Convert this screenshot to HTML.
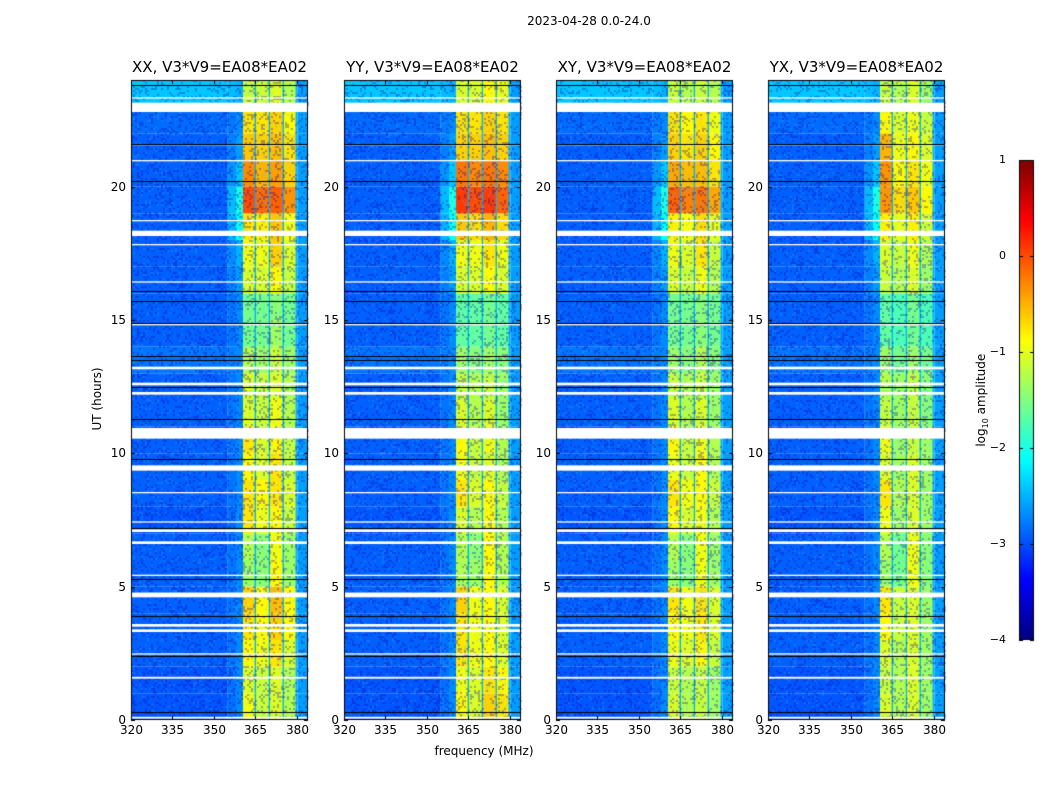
<!DOCTYPE html>
<html><head><meta charset="utf-8">
<style>
html,body{margin:0;padding:0;background:#fff;}
body{width:1050px;height:800px;position:relative;overflow:hidden;font-family:"DejaVu Sans","Liberation Sans",sans-serif;}
canvas{position:absolute;left:0;top:0;}
.t{position:absolute;color:#000;white-space:nowrap;}
</style></head>
<body>
<canvas id="c" width="1050" height="800"></canvas>
<div class="t" style="left:489px;top:14px;width:200px;text-align:center;font-size:12px;">2023-04-28 0.0-24.0</div>
<div class="t" style="left:47px;top:392px;width:100px;text-align:center;font-size:12px;transform:rotate(-90deg);">UT (hours)</div>
<div class="t" style="left:404px;top:744px;width:160px;text-align:center;font-size:12px;">frequency (MHz)</div>
<div class="t" style="left:922px;top:392px;width:120px;text-align:center;font-size:12px;transform:rotate(-90deg);">log<sub style="font-size:8px">10</sub> amplitude</div>
<div id="labels"></div>
<script>
// ---- data ----
const panelTitles = ["XX, V3*V9=EA08*EA02","YY, V3*V9=EA08*EA02","XY, V3*V9=EA08*EA02","YX, V3*V9=EA08*EA02"];
const xTicks = [320,335,350,365,380];
const yTicks = [0,5,10,15,20];
const cbTicks = [1,0,-1,-2,-3,-4];
const subbandEdges = [360.5,365.2,370.3,375.3,380.0];
const hours = [0,1,2,3,4,5,6,7,8,9,10,11,12,13,14,15,16,17,18,19,20,21,22,23];
const xxBands = [
 [-0.95,-1.05,-0.85,-0.75,-0.65,-1.35,-1.25,-0.75,-0.75,-0.85,-0.75,-1.05,-1.05,-1.25,-1.55,-1.55,-1.05,-0.95,-0.75,0.0,-0.3,-0.6,-0.75,-1.15],
 [-1.15,-1.15,-0.95,-0.85,-0.85,-1.45,-1.45,-0.95,-0.85,-1.05,-1.05,-1.15,-1.15,-1.35,-1.55,-1.55,-1.05,-0.95,-0.8,-0.15,-0.5,-0.65,-0.75,-1.15],
 [-1.05,-1.05,-0.75,-0.65,-0.55,-0.85,-0.95,-0.85,-0.75,-0.75,-0.85,-0.95,-1.05,-1.15,-1.35,-1.45,-0.85,-0.65,-0.6,-0.1,-0.4,-0.55,-0.65,-1.05],
 [-1.25,-1.25,-1.05,-0.85,-0.85,-1.35,-1.35,-1.15,-1.05,-1.15,-1.15,-1.25,-1.25,-1.35,-1.55,-1.55,-1.15,-1.05,-0.9,-0.35,-0.65,-0.75,-0.85,-1.25]];
const yyBands = [
 [-0.85,-0.95,-0.75,-0.75,-0.65,-1.25,-1.25,-1.05,-0.75,-0.95,-0.85,-1.05,-1.15,-1.35,-1.65,-1.65,-1.05,-0.95,-0.6,0.1,-0.2,-0.65,-0.75,-1.05],
 [-1.05,-1.05,-0.95,-0.95,-0.95,-1.35,-1.45,-1.25,-1.05,-1.15,-1.15,-1.25,-1.25,-1.45,-1.65,-1.65,-1.05,-0.95,-0.7,0.0,-0.3,-0.65,-0.75,-1.05],
 [-0.65,-0.75,-0.85,-0.85,-0.85,-0.85,-0.85,-0.85,-0.85,-1.05,-0.95,-1.05,-1.15,-1.35,-1.55,-1.55,-0.85,-0.75,-0.5,0.1,-0.2,-0.55,-0.65,-0.85],
 [-0.75,-0.85,-1.05,-1.05,-1.05,-1.25,-1.25,-1.25,-1.15,-1.25,-1.25,-1.35,-1.35,-1.45,-1.65,-1.65,-1.05,-0.95,-0.7,-0.1,-0.3,-0.65,-0.75,-0.95]];
const xyBands = [
 [-1.05,-1.15,-0.95,-0.85,-0.75,-1.35,-1.25,-0.85,-0.75,-0.95,-0.85,-1.05,-1.15,-1.35,-1.55,-1.55,-1.05,-0.95,-0.8,-0.1,-0.45,-0.65,-0.75,-1.15],
 [-1.25,-1.25,-1.05,-0.95,-0.95,-1.45,-1.45,-1.05,-0.95,-1.15,-1.15,-1.25,-1.25,-1.45,-1.55,-1.55,-1.15,-1.05,-0.9,-0.25,-0.55,-0.75,-0.85,-1.25],
 [-1.15,-1.15,-0.85,-0.75,-0.75,-0.95,-0.95,-0.95,-0.85,-0.85,-0.95,-1.05,-1.15,-1.25,-1.45,-1.45,-0.95,-0.75,-0.7,-0.2,-0.55,-0.65,-0.75,-1.15],
 [-1.35,-1.35,-1.15,-1.05,-1.05,-1.35,-1.35,-1.25,-1.15,-1.25,-1.25,-1.35,-1.35,-1.45,-1.55,-1.55,-1.25,-1.15,-1.0,-0.45,-0.75,-0.85,-0.95,-1.25]];
const yxBands = [
 [-1.05,-1.15,-1.05,-0.85,-0.75,-1.35,-1.25,-0.95,-0.75,-1.05,-0.95,-1.15,-1.25,-1.35,-1.65,-1.65,-1.15,-1.05,-0.8,-0.35,-0.35,-0.5,-0.85,-1.15],
 [-1.25,-1.25,-1.25,-1.15,-1.15,-1.55,-1.55,-1.35,-1.25,-1.35,-1.35,-1.35,-1.35,-1.55,-1.75,-1.75,-1.25,-1.15,-1.0,-0.7,-0.85,-0.95,-1.05,-1.25],
 [-1.05,-1.05,-1.05,-1.05,-1.05,-0.95,-0.95,-1.05,-1.05,-1.05,-1.15,-1.15,-1.15,-1.35,-1.55,-1.55,-1.05,-0.95,-0.8,-0.6,-0.75,-0.85,-0.95,-1.05],
 [-1.35,-1.35,-1.35,-1.35,-1.35,-1.45,-1.45,-1.35,-1.35,-1.35,-1.35,-1.45,-1.45,-1.55,-1.75,-1.75,-1.35,-1.25,-1.1,-0.85,-0.95,-1.05,-1.15,-1.35]];
const edgeGlow = [-2.7,-2.7,-2.7,-2.7,-2.7,-2.7,-2.7,-2.7,-2.7,-2.7,-2.7,-2.7,-2.7,-2.7,-2.7,-2.7,-2.6,-2.5,-2.1,-2.0,-2.4,-2.6,-2.7,-2.5];
const background = [-2.95,-2.95,-2.9,-2.9,-2.9,-2.9,-2.9,-2.95,-2.9,-2.9,-2.9,-2.9,-2.9,-2.8,-2.9,-2.9,-2.9,-2.9,-2.9,-2.9,-2.9,-2.9,-2.85,-2.4];
const whiteGaps = [[0.05,0.12],[1.55,1.62],[2.45,2.5],[3.3,3.4],[3.5,3.6],[4.6,4.78],[5.4,5.45],[6.6,6.7],[7.05,7.15],[7.4,7.45],[8.5,8.55],[9.35,9.55],[10.55,10.95],[12.2,12.3],[12.55,12.65],[13.15,13.25],[14.8,14.85],[16.4,16.45],[17.8,17.85],[18.15,18.35],[18.7,18.75],[20.95,21.0],[21.55,21.6],[22.8,23.15],[23.3,23.35]];
const blackLines = [0.3,2.4,3.9,5.3,7.2,9.8,11.3,12.5,13.5,13.65,14.9,15.7,16.1,20.2,21.6,23.8];
const allBands = [xxBands, yyBands, xyBands, yxBands];

// ---- layout ----
const panelLeft = [131,344,556,768], PW = 177, PT = 80, PH = 640;
const fMin = 320, fMax = 384, hMax = 24;
const cv = document.getElementById('c'), ctx = cv.getContext('2d');
function xS(p,f){return panelLeft[p] + (f-fMin)/(fMax-fMin)*PW;}
function yS(h){return PT + PH - h/hMax*PH;}
function jet(v){
  let t=(v+4)/5; t=Math.max(0,Math.min(1,t));
  const c=x=>Math.round(255*Math.max(0,Math.min(1,1.5-Math.abs(x))));
  return `rgb(${c(4*t-3)},${c(4*t-2)},${c(4*t-1)})`;
}
function rect(p,f0,f1,h0,h1,col){
  const x0=xS(p,f0),x1=xS(p,f1),y0=yS(h1),y1=yS(h0);
  ctx.fillStyle=col; ctx.fillRect(x0,y0,x1-x0,y1-y0);
}
// deterministic speckle texture (decoration only)
function speckle(p){
  let s=12345+p*777;
  const rnd=()=>{s=(s*1103515245+12345)&0x7fffffff;return s/0x7fffffff;};
  for(let y=PT;y<PT+PH;y+=2){for(let x=panelLeft[p];x<panelLeft[p]+PW;x+=2){
    const r=rnd(); if(r<0.2){ctx.fillStyle='rgba(0,0,170,0.3)';ctx.fillRect(x,y,2,2);}
    else if(r>0.93){ctx.fillStyle='rgba(60,200,255,0.2)';ctx.fillRect(x,y,2,2);} }}
}
const labels=document.getElementById('labels');
function addLabel(txt,l,t,w,align,name,fs){
  const d=document.createElement('div');
  d.className='t';
  
  
  d.style.cssText=`left:${l}px;top:${t}px;width:${w}px;text-align:${align};font-size:${fs||12}px;`;
  d.textContent=txt; labels.appendChild(d);
}
for(let p=0;p<4;p++){
  const bands=allBands[p];
  hours.forEach((h,i)=>{
    rect(p,fMin,355,h,h+1,jet(background[i]));
    rect(p,355,subbandEdges[0],h,h+1,jet((background[i]+edgeGlow[i])/2));
    rect(p,358,subbandEdges[0],h,h+1,jet(edgeGlow[i]));
    for(let b=0;b<4;b++){
      rect(p,subbandEdges[b],subbandEdges[b+1],h,h+1,jet(bands[b][i]));
      rect(p,subbandEdges[b+1]-0.5,subbandEdges[b+1]+0.2,h,h+1,jet(-2.5));
    }
    rect(p,subbandEdges[4]+0.2,fMax,h,h+1,jet(-2.6));
  });
  speckle(p);
  whiteGaps.forEach(g=>rect(p,fMin,fMax,g[0],g[1],'#fff'));
  blackLines.forEach(h=>{ctx.fillStyle='#000';ctx.fillRect(panelLeft[p],Math.round(yS(h)),PW,1);});
  ctx.strokeStyle='#000';ctx.lineWidth=1;
  ctx.strokeRect(panelLeft[p]+0.5,PT+0.5,PW-1,PH-1);
  ctx.beginPath();
  xTicks.forEach(f=>{const x=Math.round(xS(p,f))+0.5;ctx.moveTo(x,PT+PH);ctx.lineTo(x,PT+PH-4);ctx.moveTo(x,PT);ctx.lineTo(x,PT+4);
    addLabel(String(f),x-20,PT+PH+3,40,'center','x-tick-label',12);});
  yTicks.forEach(h=>{const y=Math.round(yS(h))+0.5;ctx.moveTo(panelLeft[p],y);ctx.lineTo(panelLeft[p]+4,y);ctx.moveTo(panelLeft[p]+PW,y);ctx.lineTo(panelLeft[p]+PW-4,y);
    addLabel(String(h),panelLeft[p]-45,y-8,40,'right','y-tick-label',12);});
  ctx.stroke();
  addLabel(panelTitles[p],panelLeft[p]-30,58,PW+60,'center','panel-title',15);
}
// colorbar
const cbL=1019,cbT=160,cbW=15,cbH=480;
for(let y=0;y<cbH;y++){ctx.fillStyle=jet(1-5*y/cbH);ctx.fillRect(cbL,cbT+y,cbW,1);}
ctx.strokeStyle='#000';ctx.strokeRect(cbL+0.5,cbT+0.5,cbW-1,cbH-1);
ctx.beginPath();
cbTicks.forEach(v=>{const y=Math.round(cbT+(1-v)/5*cbH)+0.5;ctx.moveTo(cbL,y);ctx.lineTo(cbL+4,y);ctx.moveTo(cbL+cbW,y);ctx.lineTo(cbL+cbW-4,y);
  addLabel(v<0?'\u2212'+(-v):String(v),cbL-44,y-8,31,'right','colorbar-tick-label',11);});
ctx.stroke();
</script>
</body></html>
